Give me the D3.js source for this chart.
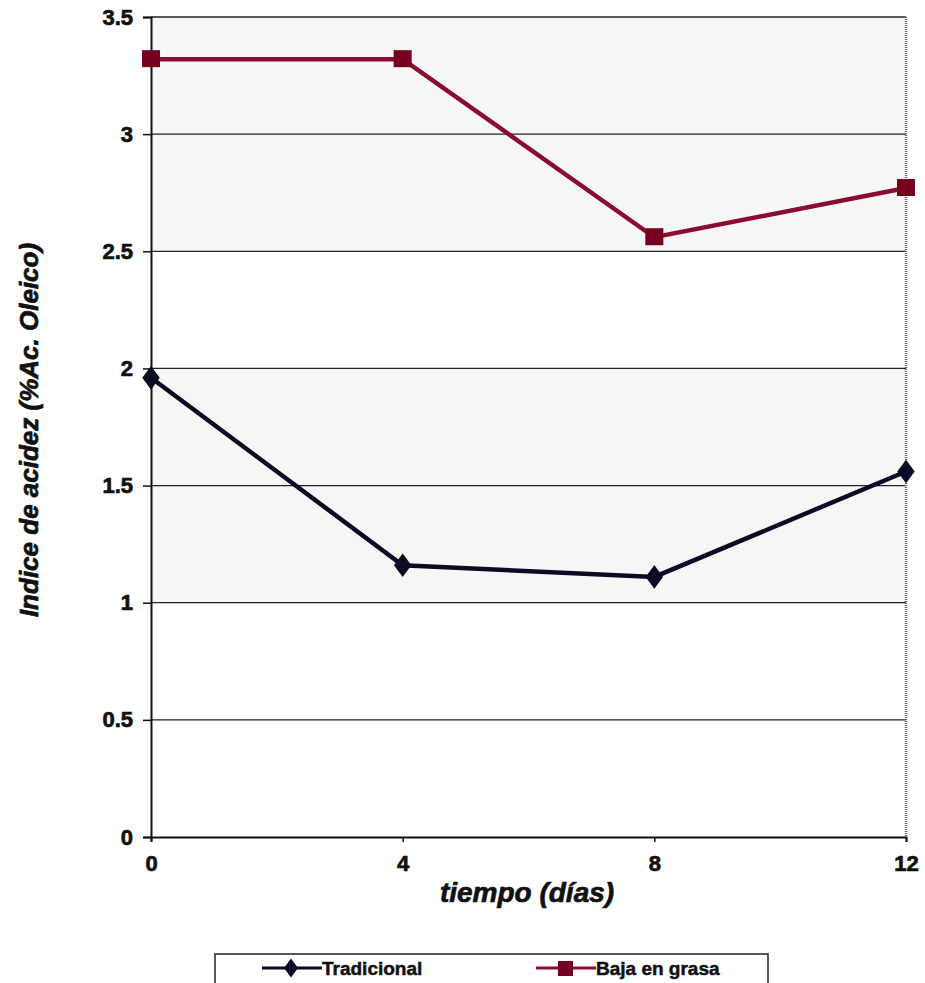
<!DOCTYPE html>
<html>
<head>
<meta charset="utf-8">
<script src="https://cdn.jsdelivr.net/npm/d3@7"></script>
<style>
  body { margin: 0; background: #fff; }
  svg { display: block; font-family: "Liberation Sans", Arial, sans-serif; }
</style>
</head>
<body>
<svg id="chart" width="925" height="983"></svg>
<script>
// Acidity index over storage time
const dias = [0, 4, 8, 12];
const tradicional = [1.96, 1.16, 1.11, 1.56];
const bajaEnGrasa = [3.32, 3.32, 2.56, 2.77];
const yTicks = [0, 0.5, 1, 1.5, 2, 2.5, 3, 3.5];
const seriesNames = ["Tradicional", "Baja en grasa"];

const FONT = '"Liberation Sans", Arial, sans-serif';
const INK = "#111";
const svg = d3.select("#chart");
const m = { left: 151, right: 906, top: 17, bottom: 837 };

const x = d3.scaleLinear().domain([0, 12]).range([m.left, m.right]);
const y = d3.scaleLinear().domain([0, 3.5]).range([m.bottom, m.top]);

// heavy text helper: bold with a thin outline of the same ink
const heavy = sel => sel.attr("font-weight", "bold").attr("fill", INK)
  .attr("stroke", INK).attr("stroke-width", 0.7);

// faint shaded bands in the plot area
const bands = [[1, 2], [2.5, 3.5]];
svg.append("g").selectAll("rect").data(bands).join("rect")
  .attr("x", m.left).attr("width", m.right - m.left)
  .attr("y", d => y(d[1])).attr("height", d => y(d[0]) - y(d[1]))
  .attr("fill", "#f6f6f6");

// horizontal gridlines
svg.append("g").selectAll("line").data(yTicks.filter(v => v > 0)).join("line")
  .attr("x1", m.left).attr("x2", m.right)
  .attr("y1", d => y(d)).attr("y2", d => y(d))
  .attr("stroke", "#222").attr("stroke-width", 1.3);

// right border
svg.append("line")
  .attr("x1", m.right).attr("x2", m.right).attr("y1", m.top).attr("y2", m.bottom)
  .attr("stroke", "#666").attr("stroke-width", 2.5).attr("stroke-dasharray", "1,1");

// y axis
const yAxis = svg.append("g").attr("transform", `translate(${m.left},0)`)
  .call(d3.axisLeft(y).tickValues(yTicks).tickSize(8).tickPadding(10)
    .tickFormat(d => d3.format("")(d)));
yAxis.attr("font-family", FONT).attr("font-size", 22);
yAxis.select(".domain").attr("stroke", INK).attr("stroke-width", 2);
yAxis.selectAll(".tick line").attr("stroke", INK).attr("stroke-width", 1.5);
yAxis.selectAll(".tick text").call(heavy);

// x axis
const xAxis = svg.append("g").attr("transform", `translate(0,${m.bottom})`)
  .call(d3.axisBottom(x).tickValues(dias).tickSize(5).tickPadding(13));
xAxis.attr("font-family", FONT).attr("font-size", 22);
xAxis.select(".domain").attr("stroke", INK).attr("stroke-width", 2);
xAxis.selectAll(".tick line").attr("stroke", INK).attr("stroke-width", 1.5);
xAxis.selectAll(".tick text").call(heavy);

// axis titles
svg.append("text")
  .attr("x", 527).attr("y", 902).attr("text-anchor", "middle")
  .attr("font-size", 28).attr("font-style", "italic")
  .call(heavy).text("tiempo (días)");
svg.append("text")
  .attr("transform", "translate(38,430) rotate(-90)").attr("text-anchor", "middle")
  .attr("font-size", 26).attr("font-style", "italic")
  .call(heavy).text("Indice de acidez (%Ac. Oleico)");

const colTrad = "#0b0b26";
const colBaja = "#8a0c30";
const colBajaMark = "#760020";

const line = d3.line().x((d, i) => x(dias[i])).y(d => y(d));

// Tradicional series
svg.append("path").datum(tradicional).attr("d", line)
  .attr("fill", "none").attr("stroke", colTrad).attr("stroke-width", 4.5);
svg.append("g").selectAll("path").data(tradicional).join("path")
  .attr("d", d3.symbol(d3.symbolDiamond, 200))
  .attr("transform", (d, i) => `translate(${x(dias[i])},${y(d)}) scale(1.15,0.9)`)
  .attr("fill", colTrad);

// Baja en grasa series
svg.append("path").datum(bajaEnGrasa).attr("d", line)
  .attr("fill", "none").attr("stroke", colBaja).attr("stroke-width", 4.5);
svg.append("g").selectAll("rect").data(bajaEnGrasa).join("rect")
  .attr("x", (d, i) => x(dias[i]) - 9).attr("y", d => y(d) - 9)
  .attr("width", 18).attr("height", 17).attr("fill", colBajaMark);

// legend
const lg = svg.append("g");
lg.append("rect").attr("x", 215).attr("y", 954).attr("width", 553).attr("height", 40)
  .attr("fill", "#fff").attr("stroke", "#222").attr("stroke-width", 1.5);
const legendItems = [
  { name: seriesNames[0], x0: 262, color: colTrad, shape: "diamond" },
  { name: seriesNames[1], x0: 536, color: colBaja, shape: "square" }
];
legendItems.forEach(it => {
  lg.append("line").attr("x1", it.x0).attr("x2", it.x0 + 60).attr("y1", 968).attr("y2", 968)
    .attr("stroke", it.color).attr("stroke-width", 3);
  if (it.shape === "diamond") {
    lg.append("path").attr("d", d3.symbol(d3.symbolDiamond, 130))
      .attr("transform", `translate(${it.x0 + 29},968) scale(1.15,0.9)`).attr("fill", it.color);
  } else {
    lg.append("rect").attr("x", it.x0 + 22).attr("y", 961).attr("width", 15).attr("height", 15)
      .attr("fill", colBajaMark);
  }
  lg.append("text").attr("x", it.x0 + 60).attr("y", 975)
    .attr("font-size", 19).call(heavy).attr("stroke-width", 0.5).text(it.name);
});
</script>
</body>
</html>
